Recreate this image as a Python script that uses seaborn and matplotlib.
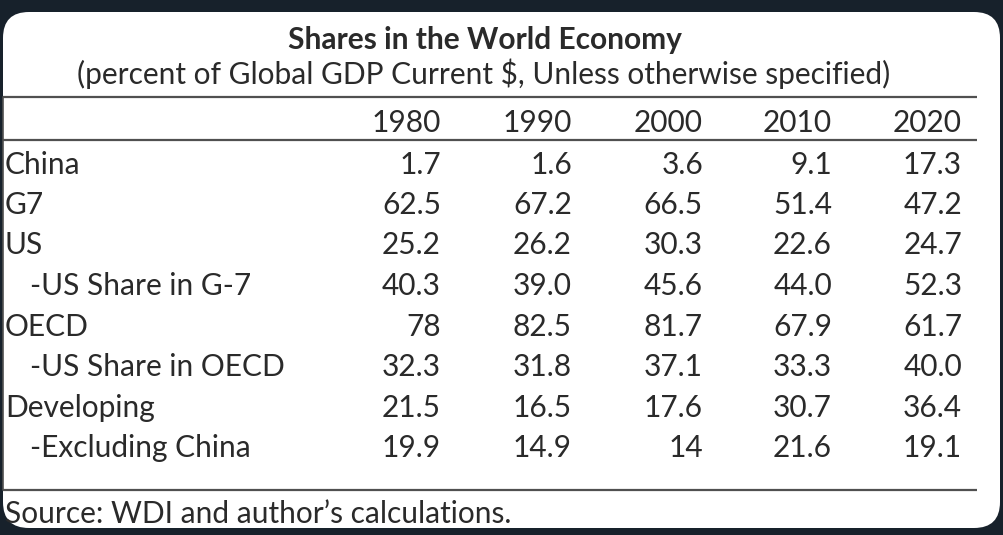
import numpy as np
import pandas as pd
import matplotlib.pyplot as plt
import seaborn as sns
from matplotlib.patches import FancyBboxPatch

sns.set_theme(style='white')
plt.rcParams['font.family'] = ['Lato', 'DejaVu Sans']

# table data
title = 'Shares in the World Economy'
subtitle = '(percent of Global GDP Current $, Unless otherwise specified)'
source = 'Source: WDI and author\u2019s calculations.'
years = ['1980', '1990', '2000', '2010', '2020']
row_labels = ['China', 'G7', 'US', '-US Share in G-7', 'OECD',
              '-US Share in OECD', 'Developing', '-Excluding China']
indented = [False, False, False, True, False, True, False, True]
china = ['1.7', '1.6', '3.6', '9.1', '17.3']
g7 = ['62.5', '67.2', '66.5', '51.4', '47.2']
us = ['25.2', '26.2', '30.3', '22.6', '24.7']
us_in_g7 = ['40.3', '39.0', '45.6', '44.0', '52.3']
oecd = ['78', '82.5', '81.7', '67.9', '61.7']
us_in_oecd = ['32.3', '31.8', '37.1', '33.3', '40.0']
developing = ['21.5', '16.5', '17.6', '30.7', '36.4']
dev_ex_china = ['19.9', '14.9', '14', '21.6', '19.1']

table = pd.DataFrame([china, g7, us, us_in_g7, oecd, us_in_oecd, developing, dev_ex_china],
                     index=row_labels, columns=years)

fig = plt.figure(figsize=(10.04, 5.35), dpi=100)
fig.patch.set_facecolor('#17212b')
ax = fig.add_axes([0, 0, 1, 1])
ax.set_xlim(0, 1004)
ax.set_ylim(535, 0)
ax.axis('off')

# white card behind the table
card = FancyBboxPatch((3, 12), 997, 516, boxstyle='round,pad=0,rounding_size=26',
                      facecolor='white', edgecolor='none')
ax.add_patch(card)

txt = '#2a2a2a'
fs = 21.5
ax.text(485, 49, title, ha='center', va='baseline', fontsize=fs, fontweight='bold', color=txt)
ax.text(484, 84, subtitle, ha='center', va='baseline', fontsize=fs, color=txt)

for y in [97, 140, 490]:
    ax.plot([3, 977], [y, y], color='#505050', lw=1.6, solid_capstyle='butt')
ax.plot([3, 3], [97, 490], color='#505050', lw=1.2)

col_x = [441, 572, 703, 832, 962]
for x, yr in zip(col_x, years):
    ax.text(x, 132, yr, ha='right', va='baseline', fontsize=fs, color=txt)

# baselines of the body rows
row_y = [174, 214, 254, 295, 336, 376, 417, 457]
for y, lab, ind in zip(row_y, table.index, indented):
    ax.text(30 if ind else 5, y, lab, ha='left', va='baseline', fontsize=fs, color=txt)
    for x, yr in zip(col_x, years):
        ax.text(x, y, table.loc[lab, yr], ha='right', va='baseline', fontsize=fs, color=txt)

ax.text(5, 523, source, ha='left', va='baseline', fontsize=fs, color=txt)

fig.savefig('out.png', dpi=100, facecolor=fig.get_facecolor())
